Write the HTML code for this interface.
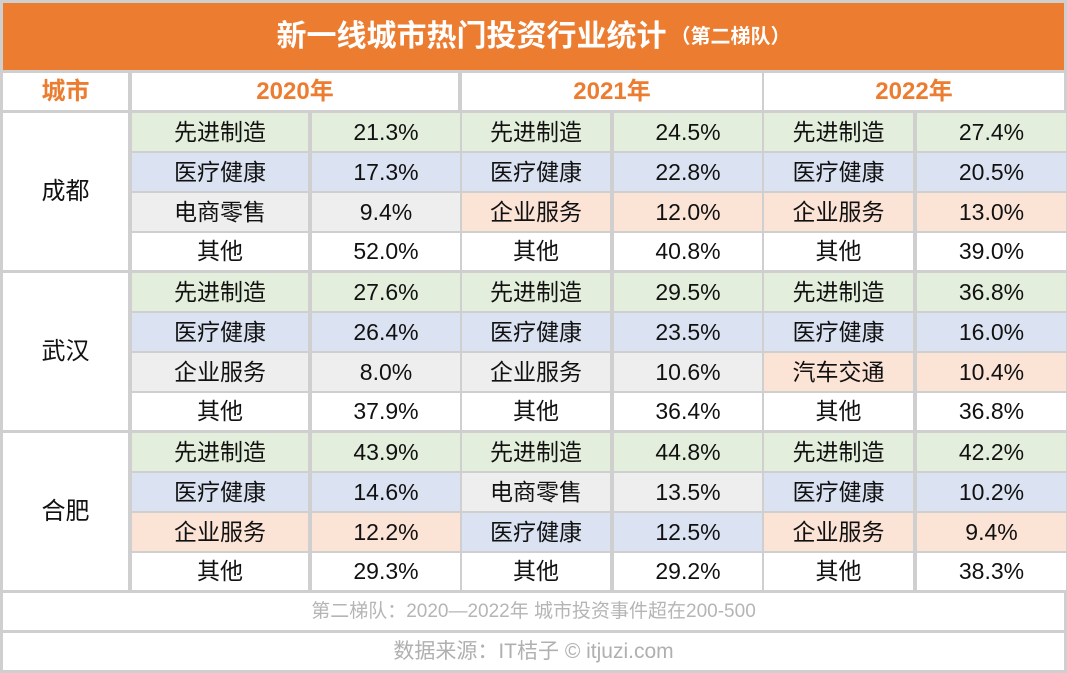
<!DOCTYPE html>
<html><head><meta charset="utf-8">
<style>
*{margin:0;padding:0;box-sizing:border-box}
body{width:1067px;height:673px;background:#cfcfcf;font-family:"Liberation Sans","Noto Sans CJK SC",sans-serif;position:relative;overflow:hidden}
.c{position:absolute;display:flex;align-items:center;justify-content:center;background:#fff;color:#111;font-size:23px;line-height:1}
.g{background:#e3efdc}.b{background:#dbe2f2}.o{background:#fbe3d6}.y{background:#eeeeee}.w{background:#fff}
.h{color:#ec7c30;font-weight:bold;font-size:24px}
</style></head><body>
<div class="c" style="left:3px;top:3px;width:1061px;height:67px;background:#ec7c30;color:#fff;font-weight:bold;font-size:30px">新一线城市热门投资行业统计<span style="font-size:20px;margin-left:4px">（第二梯队）</span></div>
<div id="t"></div>
<script>
const years=['2020年','2021年','2022年'];
const cities=['成都','武汉','合肥'];
const cats=[
[['先进制造','医疗健康','电商零售','其他'],['先进制造','医疗健康','企业服务','其他'],['先进制造','医疗健康','企业服务','其他']],
[['先进制造','医疗健康','企业服务','其他'],['先进制造','医疗健康','企业服务','其他'],['先进制造','医疗健康','汽车交通','其他']],
[['先进制造','医疗健康','企业服务','其他'],['先进制造','电商零售','医疗健康','其他'],['先进制造','医疗健康','企业服务','其他']]];
const vals=[
[['21.3%','17.3%','9.4%','52.0%'],['24.5%','22.8%','12.0%','40.8%'],['27.4%','20.5%','13.0%','39.0%']],
[['27.6%','26.4%','8.0%','37.9%'],['29.5%','23.5%','10.6%','36.4%'],['36.8%','16.0%','10.4%','36.8%']],
[['43.9%','14.6%','12.2%','29.3%'],['44.8%','13.5%','12.5%','29.2%'],['42.2%','10.2%','9.4%','38.3%']]];
const shade=[
[['g','b','y','w'],['g','b','o','w'],['g','b','o','w']],
[['g','b','y','w'],['g','b','y','w'],['g','b','o','w']],
[['g','b','o','w'],['g','y','b','w'],['g','b','o','w']]];
const colX=[[132,310],[462,612],[764,915]], colW=[[176,148],[148,148],[149,149]];
const T=document.getElementById('t');
function cell(name,x,y,w,h,txt,c,st){const d=document.createElement('div');d.className='c '+(c||'');


d.style.cssText+=`left:${x}px;top:${y}px;width:${w}px;height:${h}px;`+(st||'');d.textContent=txt;T.appendChild(d);return d;}
cell('city-header',3,73,125,37,'城市','h');
const yx=[[132,326],[462,300],[764,300]];
years.forEach((y,i)=>cell('year-header',yx[i][0],73,yx[i][1],37,y,'h'));
cities.forEach((c,ci)=>{
 const top=113+ci*160;
 cell('city-label',3,top,125,157,c,'','font-size:24px');
 for(let yi=0;yi<3;yi++)for(let r=0;r<4;r++){
  const k=cats[ci][yi][r], s=shade[ci][yi][r], yy=top+r*40, h=r==3?37:38;
  cell('category-cell',colX[yi][0],yy,colW[yi][0],h,k,s);
  cell('value-cell',colX[yi][1]+2,yy,colW[yi][1],h,vals[ci][yi][r],s);
 }
});
cell('footnote',3,593,1061,37,'第二梯队：2020—2022年 城市投资事件超在200-500','','color:#b5b5b5;font-size:19px');
cell('source-note',3,633,1061,37,'数据来源：IT桔子 © itjuzi.com','','color:#b0b0b0;font-size:21px');
</script>
</body></html>
